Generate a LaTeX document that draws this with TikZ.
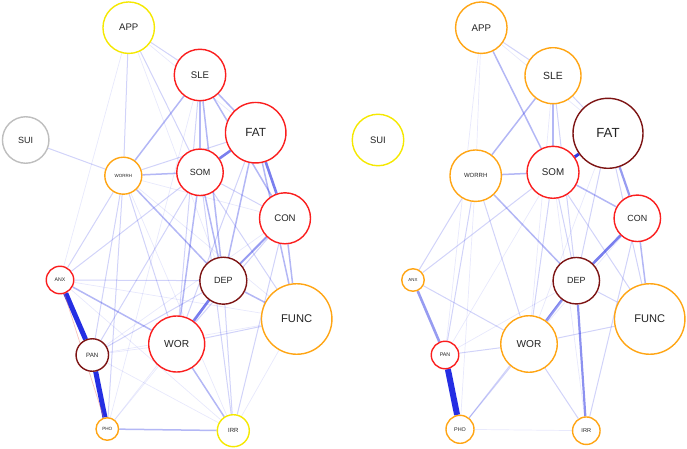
\documentclass[tikz,border=0pt]{standalone}
\usepackage{fontspec}
\setmainfont{Liberation Sans}
\usetikzlibrary{backgrounds}
\definecolor{cyel}{RGB}{245,232,0}
\definecolor{cred}{RGB}{250,30,30}
\definecolor{cora}{RGB}{255,165,20}
\definecolor{cdrk}{RGB}{125,20,20}
\definecolor{cgry}{RGB}{190,190,190}
\definecolor{eblue}{RGB}{25,35,225}
\definecolor{ered}{RGB}{240,120,110}
\definecolor{ctxt}{RGB}{35,35,35}
\tikzset{
  nd/.style n args={3}{circle, draw=#1, line width=1.4pt, fill=white, inner sep=0pt,
     minimum size=#2pt, text=ctxt, font=\fontsize{#3}{#3}\selectfont},
  w1/.style={draw=eblue, line width=0.7pt, draw opacity=0.10},
  w2/.style={draw=eblue, line width=1pt, draw opacity=0.20},
  w3/.style={draw=eblue, line width=1.5pt, draw opacity=0.33},
  w4/.style={draw=eblue, line width=2.6pt, draw opacity=0.58},
  w5/.style={draw=eblue, line width=5pt, draw opacity=0.95},
  wn/.style={draw=ered, line width=0.7pt, draw opacity=0.45},
}
\begin{document}
\begin{tikzpicture}[x=1pt,y=-1pt]
\useasboundingbox (0,0) rectangle (687,449);
% ---------------- left network ----------------
\node[nd={cyel}{51.5}{9.6}] (LAPP) at (128.7,27.7) {APP};
\node[nd={cred}{51.5}{9.6}] (LSLE) at (200,75) {SLE};
\node[nd={cgry}{46.5}{9}] (LSUI) at (25.7,140) {SUI};
\node[nd={cred}{60.5}{11.8}] (LFAT) at (255.7,132.7) {FAT};
\node[nd={cora}{37}{4.5}] (LWORRH) at (123.3,175.7) {WORRH};
\node[nd={cred}{46.5}{9}] (LSOM) at (200,172.3) {SOM};
\node[nd={cred}{51}{9.6}] (LCON) at (285,218.3) {CON};
\node[nd={cred}{27.5}{5.2}] (LANX) at (60,280) {ANX};
\node[nd={cdrk}{47}{9}] (LDEP) at (223.3,280.7) {DEP};
\node[nd={cora}{70.5}{11.2}] (LFUNC) at (296.7,319) {FUNC};
\node[nd={cred}{56}{10.2}] (LWOR) at (176.7,344) {WOR};
\node[nd={cdrk}{32.5}{6.2}] (LPAN) at (92.3,355) {PAN};
\node[nd={cora}{22.5}{4.6}] (LPHO) at (107.3,429) {PHO};
\node[nd={cyel}{32}{6}] (LIRR) at (233.3,430.7) {IRR};
% ---------------- right network ----------------
\node[nd={cora}{51.5}{9.7}] (RAPP) at (481.3,27.7) {APP};
\node[nd={cora}{56}{10.4}] (RSLE) at (553,75.7) {SLE};
\node[nd={cyel}{51.5}{9.4}] (RSUI) at (378,140) {SUI};
\node[nd={cdrk}{70}{13.2}] (RFAT) at (608,133.3) {FAT};
\node[nd={cora}{51.5}{6}] (RWORRH) at (475.7,175.7) {WORRH};
\node[nd={cred}{52}{9.8}] (RSOM) at (553,172.3) {SOM};
\node[nd={cred}{46.5}{8.9}] (RCON) at (637.3,218.3) {CON};
\node[nd={cora}{22.5}{4.4}] (RANX) at (413,280) {ANX};
\node[nd={cdrk}{46.5}{8.9}] (RDEP) at (576.3,280.7) {DEP};
\node[nd={cora}{70.5}{11.1}] (RFUNC) at (649.7,319) {FUNC};
\node[nd={cora}{56.5}{10.1}] (RWOR) at (529,344) {WOR};
\node[nd={cred}{27.5}{5.3}] (RPAN) at (445,355) {PAN};
\node[nd={cora}{28}{5.4}] (RPHO) at (460,429.3) {PHO};
\node[nd={cora}{27.5}{5.6}] (RIRR) at (586.3,430.7) {IRR};
\begin{pgfonlayer}{background}
% left edges
\draw[w5] (LANX) -- (LPAN);
\draw[w5] (LPAN) -- (LPHO);
\draw[wn] (LANX) -- (LPHO);
\draw[w4] (LSOM) -- (LFAT);
\draw[w4] (LFAT) -- (LCON);
\draw[w4] (LDEP) -- (LWOR);
\draw[w3,line width=2pt,draw opacity=0.45] (LDEP) -- (LCON);
\draw[w3] (LSLE) -- (LSOM);
\draw[w3] (LSLE) -- (LFAT);
\draw[w3] (LSLE) -- (LCON);
\draw[w3] (LSLE) -- (LWORRH);
\draw[w3] (LSLE) -- (LDEP);
\draw[w2] (LSLE) -- (LWOR);
\draw[w2] (LAPP) -- (LSLE);
\draw[w2] (LAPP) -- (LWORRH);
\draw[w2] (LAPP) -- (LSOM);
\draw[w1] (LAPP) -- (LFAT);
\draw[w1] (LAPP) -- (LANX);
\draw[w1] (LAPP) -- (LDEP);
\draw[w2] (LSUI) -- (LWORRH);
\draw[w3] (LWORRH) -- (LSOM);
\draw[w2] (LWORRH) -- (LFAT);
\draw[w3] (LWORRH) -- (LDEP);
\draw[w2] (LWORRH) -- (LPAN);
\draw[w2] (LWORRH) -- (LANX);
\draw[w2] (LWORRH) -- (LPHO);
\draw[w1] (LWORRH) -- (LIRR);
\draw[w1] (LWORRH) -- (LCON);
\draw[w1] (LWORRH) -- (LFUNC);
\draw[w2] (LWORRH) -- (LWOR);
\draw[w3] (LSOM) -- (LDEP);
\draw[w3] (LSOM) -- (LWOR);
\draw[w2] (LSOM) -- (LCON);
\draw[w2] (LSOM) -- (LFUNC);
\draw[w2] (LSOM) -- (LPAN);
\draw[w2] (LSOM) -- (LANX);
\draw[w2] (LSOM) -- (LIRR);
\draw[w3] (LFAT) -- (LDEP);
\draw[w3] (LFAT) -- (LFUNC);
\draw[w2] (LFAT) -- (LWOR);
\draw[w3] (LCON) -- (LFUNC);
\draw[w2] (LCON) -- (LWOR);
\draw[w2] (LCON) -- (LIRR);
\draw[w1] (LCON) -- (LPAN);
\draw[w3] (LDEP) -- (LFUNC);
\draw[w2] (LDEP) -- (LIRR);
\draw[w2] (LDEP) -- (LANX);
\draw[w2] (LDEP) -- (LPAN);
\draw[w1] (LDEP) -- (LPHO);
\draw[w3] (LWOR) -- (LANX);
\draw[w2] (LWOR) -- (LFUNC);
\draw[w3] (LWOR) -- (LIRR);
\draw[w1] (LWOR) -- (LPAN);
\draw[w1] (LWOR) -- (LPHO);
\draw[w1] (LFUNC) -- (LIRR);
\draw[w1] (LFUNC) -- (LPAN);
\draw[w3] (LPHO) -- (LIRR);
\draw[w1] (LPAN) -- (LIRR);
\draw[w1] (LANX) -- (LIRR);
\draw[w1] (LSLE) -- (LPHO);
\draw[w1] (LANX) -- (LFUNC);
% right edges
\draw[w5,line width=6pt] (RPAN) -- (RPHO);
\draw[w4,draw opacity=0.45] (RANX) -- (RPAN);
\draw[w4,draw opacity=0.9,line width=3pt] (RSOM) -- (RFAT);
\draw[w4] (RDEP) -- (RCON);
\draw[w4,draw opacity=0.45] (RDEP) -- (RWOR);
\draw[w4,draw opacity=0.5,line width=2.2pt] (RDEP) -- (RIRR);
\draw[w4,draw opacity=0.45,line width=2.2pt] (RFAT) -- (RCON);
\draw[w3] (RCON) -- (RFUNC);
\draw[w3] (RSOM) -- (RCON);
\draw[w3] (RWORRH) -- (RSOM);
\draw[w3] (RWORRH) -- (RDEP);
\draw[w3] (RSLE) -- (RWORRH);
\draw[w3] (RSLE) -- (RSOM);
\draw[w2] (RSLE) -- (RFAT);
\draw[w2] (RSLE) -- (RDEP);
\draw[w2] (RAPP) -- (RSLE);
\draw[w3] (RAPP) -- (RSOM);
\draw[w1] (RAPP) -- (RWORRH);
\draw[w1] (RAPP) -- (RPAN);
\draw[w1] (RAPP) -- (RFAT);
\draw[w2] (RWORRH) -- (RANX);
\draw[w2] (RWORRH) -- (RPAN);
\draw[w1] (RWORRH) -- (RPHO);
\draw[w2] (RWORRH) -- (RWOR);
\draw[w2] (RANX) -- (RSOM);
\draw[w2] (RANX) -- (RWOR);
\draw[w2] (RPAN) -- (RWOR);
\draw[w1] (RPAN) -- (RSOM);
\draw[w1] (RPAN) -- (RDEP);
\draw[w2] (RPHO) -- (RWOR);
\draw[w2] (RPHO) -- (RDEP);
\draw[w1] (RPHO) -- (RIRR);
\draw[w2] (RWOR) -- (RIRR);
\draw[w2] (RWOR) -- (RFUNC);
\draw[w2] (RCON) -- (RIRR);
\draw[w2] (RFAT) -- (RFUNC);
\draw[w2] (RFAT) -- (RDEP);
\draw[w2] (RSOM) -- (RDEP);
\draw[w2] (RSOM) -- (RWOR);
\draw[w2] (RSOM) -- (RFUNC);
\draw[w2] (RDEP) -- (RFUNC);
\draw[w1] (RCON) -- (RWOR);
\draw[w1] (RSLE) -- (RWOR);
\draw[w1] (RFAT) -- (RWOR);
\draw[w1] (RSOM) -- (RIRR);
\end{pgfonlayer}
\end{tikzpicture}
\end{document}
